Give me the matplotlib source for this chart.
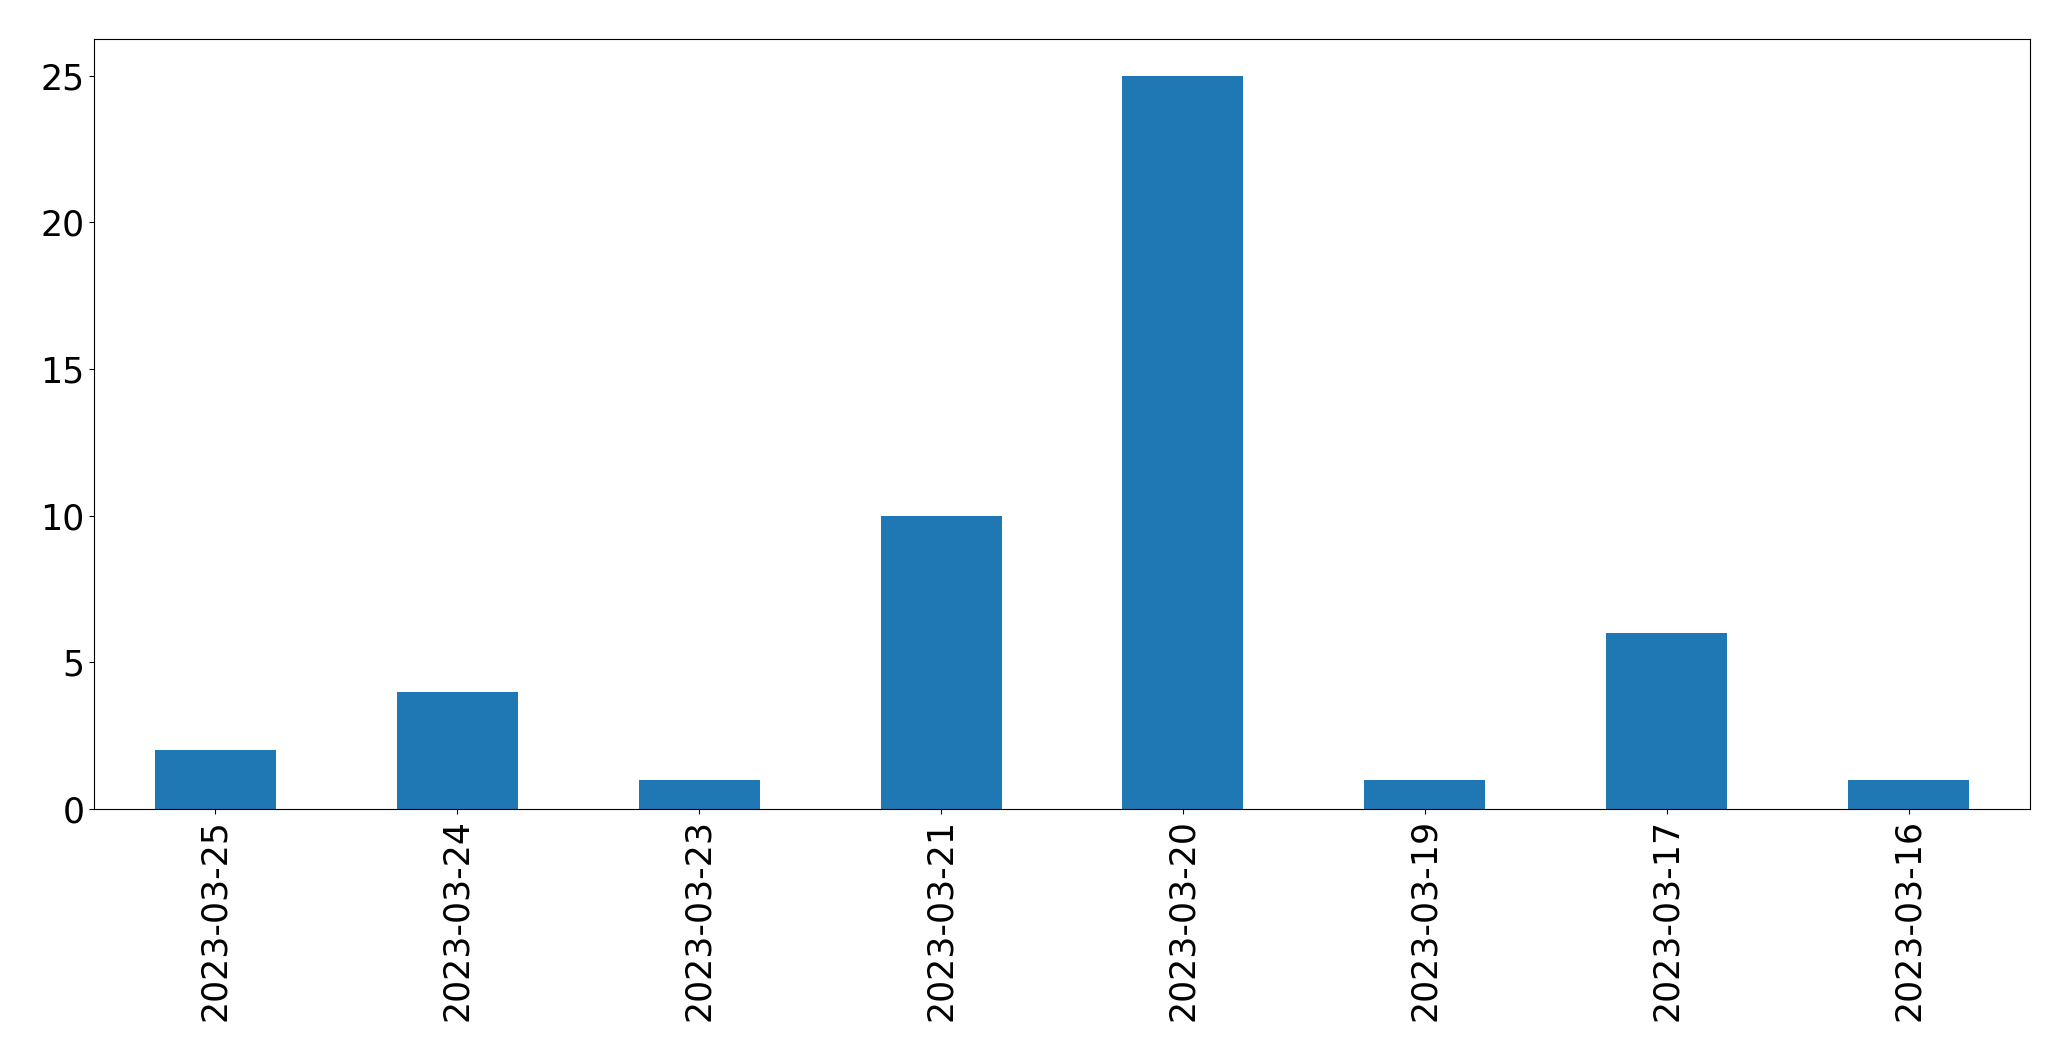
import matplotlib
matplotlib.use("Agg")
import matplotlib.pyplot as plt
import pandas as pd

dates = ['2023-03-25', '2023-03-24', '2023-03-23', '2023-03-21',
         '2023-03-20', '2023-03-19', '2023-03-17', '2023-03-16']
counts = [2, 4, 1, 10, 25, 1, 6, 1]

s = pd.Series(counts, index=dates)

fig = plt.figure(figsize=(20.71, 10.61), dpi=100)
ax = fig.add_subplot(111)
s.plot(kind='bar', ax=ax, color='#1f77b4')
ax.tick_params(axis='both', labelsize=25)
plt.subplots_adjust(left=0.0456, right=0.980, top=0.9632, bottom=0.2375)
plt.savefig('out.png', dpi=100)
